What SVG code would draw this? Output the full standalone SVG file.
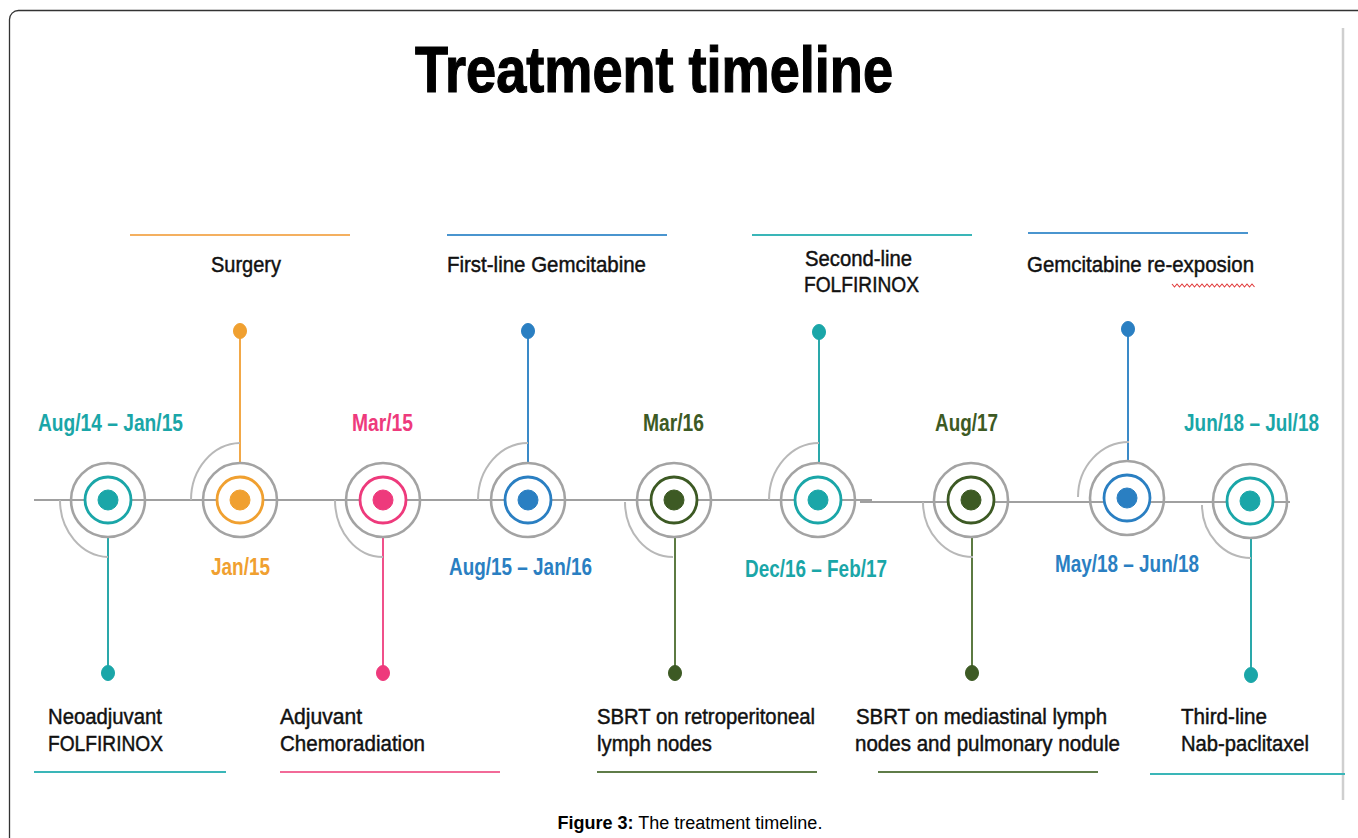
<svg xmlns="http://www.w3.org/2000/svg" width="1358" height="838" viewBox="0 0 1358 838">
<defs>
<style>
.t{font-family:"Liberation Sans",Arial,sans-serif;fill:#111;font-size:22px;stroke:#111;stroke-width:0.45}
.d{font-family:"Liberation Sans",Arial,sans-serif;font-weight:bold;font-size:23px}
.og{fill:none;stroke:#a3a3a3;stroke-width:2.6}
.arc{fill:none;stroke:#b8b8b8;stroke-width:2}
.ring{fill:#fff;stroke-width:2.8}
.teal{stroke:#1aa6a8;fill:#1aa6a8}
.orange{stroke:#f0a030;fill:#f0a030}
.pink{stroke:#ee3a7c;fill:#ee3a7c}
.blue{stroke:#2a7fc2;fill:#2a7fc2}
.green{stroke:#3d5a24;fill:#3d5a24}
.stem{stroke-width:2;fill:none}
.bar{stroke-width:2.2;fill:none}
</style>
</defs>
<rect x="0" y="0" width="1358" height="838" fill="#fff"/>
<rect x="9.5" y="10.5" width="1420" height="900" rx="9" fill="none" stroke="#333" stroke-width="1.3"/>
<line x1="1343" y1="28" x2="1343" y2="800" stroke="#cfcfcf" stroke-width="2.5"/>
<text x="654" y="92" text-anchor="middle" font-family="Liberation Sans, Arial, sans-serif" font-weight="bold" font-size="64" fill="#000" stroke="#000" stroke-width="1.2" textLength="478" lengthAdjust="spacingAndGlyphs">Treatment timeline</text>

<g id="connectors">
<line x1="34" y1="500" x2="872" y2="500" stroke="#a0a0a0" stroke-width="2"/>
<line x1="860" y1="502" x2="1290" y2="502" stroke="#a0a0a0" stroke-width="2"/>
<line class="stem teal" x1="108" y1="538" x2="108" y2="672" style="stroke:#2aa8aa"/>
<line class="stem orange" x1="240" y1="462" x2="240" y2="332" style="stroke:#f2a848"/>
<line class="stem pink" x1="383" y1="538" x2="383" y2="672" style="stroke:#f0508a"/>
<line class="stem blue" x1="528" y1="462" x2="528" y2="332" style="stroke:#3a8ac8"/>
<line class="stem green" x1="675" y1="538" x2="675" y2="672" style="stroke:#5c7a42"/>
<line class="stem teal" x1="819" y1="462" x2="819" y2="333" style="stroke:#2aa8aa"/>
<line class="stem green" x1="972" y1="538" x2="972" y2="672" style="stroke:#5c7a42"/>
<line class="stem blue" x1="1128" y1="462" x2="1128" y2="330" style="stroke:#3a8ac8"/>
<line class="stem teal" x1="1251" y1="538" x2="1251" y2="674" style="stroke:#2aa8aa"/>
</g>

<g id="n1">
<path class="arc" d="M60,500 A50,57 0 0 0 108,557"/>
<circle class="og" cx="108" cy="500" r="37"/>
<circle class="ring teal" cx="108" cy="500" r="23" style="fill:#fff"/>
<circle class="teal" cx="108" cy="500" r="10"/>
<ellipse class="teal" cx="108" cy="673" rx="6.5" ry="7.5"/>
<text class="d teal" style="stroke:none" x="38" y="431" textLength="145" lengthAdjust="spacingAndGlyphs">Aug/14 – Jan/15</text>
<text class="t" x="48" y="724" textLength="114" lengthAdjust="spacingAndGlyphs">Neoadjuvant</text>
<text class="t" x="48" y="751" textLength="115" lengthAdjust="spacingAndGlyphs">FOLFIRINOX</text>
<line class="bar teal" x1="34" y1="772" x2="226" y2="772" style="stroke:#3ab6b8"/>
</g>

<g id="n2">
<path class="arc" d="M191,500 A50,57 0 0 1 240,443"/>
<circle class="og" cx="240" cy="500" r="37"/>
<circle class="ring orange" cx="240" cy="500" r="23" style="fill:#fff"/>
<circle class="orange" cx="240" cy="500" r="10"/>
<ellipse class="orange" cx="240" cy="331" rx="6.5" ry="7.5"/>
<text class="d orange" style="stroke:none" x="211" y="575" textLength="59" lengthAdjust="spacingAndGlyphs">Jan/15</text>
<line class="bar orange" x1="130" y1="235" x2="350" y2="235" style="stroke:#f4b060"/>
<text class="t" x="211" y="272" textLength="70" lengthAdjust="spacingAndGlyphs">Surgery</text>
</g>

<g id="n3">
<path class="arc" d="M335,500 A48,57 0 0 0 383,557"/>
<circle class="og" cx="383" cy="500" r="37"/>
<circle class="ring pink" cx="383" cy="500" r="23" style="fill:#fff"/>
<circle class="pink" cx="383" cy="500" r="10"/>
<ellipse class="pink" cx="383" cy="673" rx="6.5" ry="7.5"/>
<text class="d pink" style="stroke:none" x="352" y="431" textLength="61" lengthAdjust="spacingAndGlyphs">Mar/15</text>
<text class="t" x="280" y="724" textLength="82" lengthAdjust="spacingAndGlyphs">Adjuvant</text>
<text class="t" x="280" y="751" textLength="145" lengthAdjust="spacingAndGlyphs">Chemoradiation</text>
<line class="bar pink" x1="280" y1="772" x2="500" y2="772" style="stroke:#f26a98"/>
</g>

<g id="n4">
<path class="arc" d="M478,500 A50,57 0 0 1 528,443"/>
<circle class="og" cx="528" cy="500" r="37"/>
<circle class="ring blue" cx="528" cy="500" r="23" style="fill:#fff"/>
<circle class="blue" cx="528" cy="500" r="10"/>
<ellipse class="blue" cx="528" cy="331" rx="6.5" ry="7.5"/>
<text class="d blue" style="stroke:none" x="449" y="575" textLength="143" lengthAdjust="spacingAndGlyphs">Aug/15 – Jan/16</text>
<line class="bar blue" x1="447" y1="235" x2="667" y2="235" style="stroke:#4a95cf"/>
<text class="t" x="447" y="272" textLength="199" lengthAdjust="spacingAndGlyphs">First-line Gemcitabine</text>
</g>

<g id="n5">
<path class="arc" d="M625,502 A48,55 0 0 0 673,557"/>
<circle class="og" cx="674" cy="500" r="37"/>
<circle class="ring green" cx="674" cy="500" r="23" style="fill:#fff"/>
<circle class="green" cx="674" cy="500" r="10"/>
<ellipse class="green" cx="675" cy="673" rx="6.5" ry="7.5"/>
<text class="d green" style="stroke:none" x="643" y="431" textLength="61" lengthAdjust="spacingAndGlyphs">Mar/16</text>
<text class="t" x="597" y="724" textLength="218" lengthAdjust="spacingAndGlyphs">SBRT on retroperitoneal</text>
<text class="t" x="597" y="751" textLength="115" lengthAdjust="spacingAndGlyphs">lymph nodes</text>
<line class="bar green" x1="597" y1="772" x2="817" y2="772" style="stroke:#5f7c48"/>
</g>

<g id="n6">
<path class="arc" d="M769,500 A50,57 0 0 1 819,443"/>
<circle class="og" cx="818" cy="500" r="37"/>
<circle class="ring teal" cx="818" cy="500" r="23" style="fill:#fff"/>
<circle class="teal" cx="818" cy="500" r="10"/>
<ellipse class="teal" cx="819" cy="332" rx="6.5" ry="7.5"/>
<text class="d teal" style="stroke:none" x="745" y="577" textLength="142" lengthAdjust="spacingAndGlyphs">Dec/16 – Feb/17</text>
<line class="bar teal" x1="752" y1="235" x2="972" y2="235" style="stroke:#3ab6b8"/>
<text class="t" x="805" y="266" textLength="107" lengthAdjust="spacingAndGlyphs">Second-line</text>
<text class="t" x="804" y="292" textLength="115" lengthAdjust="spacingAndGlyphs">FOLFIRINOX</text>
</g>

<g id="n7">
<path class="arc" d="M923,502 A50,55 0 0 0 973,557"/>
<circle class="og" cx="971" cy="500" r="37"/>
<circle class="ring green" cx="971" cy="500" r="23" style="fill:#fff"/>
<circle class="green" cx="971" cy="500" r="10"/>
<ellipse class="green" cx="972" cy="673" rx="6.5" ry="7.5"/>
<text class="d green" style="stroke:none" x="935" y="431" textLength="63" lengthAdjust="spacingAndGlyphs">Aug/17</text>
<text class="t" x="856" y="724" textLength="251" lengthAdjust="spacingAndGlyphs">SBRT on mediastinal lymph</text>
<text class="t" x="855" y="751" textLength="265" lengthAdjust="spacingAndGlyphs">nodes and pulmonary nodule</text>
<line class="bar green" x1="878" y1="772" x2="1098" y2="772" style="stroke:#5f7c48"/>
</g>

<g id="n8">
<path class="arc" d="M1078,497 A51,55 0 0 1 1129,442"/>
<circle class="og" cx="1127" cy="498" r="37"/>
<circle class="ring blue" cx="1127" cy="498" r="23" style="fill:#fff"/>
<circle class="blue" cx="1127" cy="498" r="10"/>
<ellipse class="blue" cx="1128" cy="329" rx="6.5" ry="7.5"/>
<text class="d blue" style="stroke:none" x="1055" y="572" textLength="144" lengthAdjust="spacingAndGlyphs">May/18 – Jun/18</text>
<line class="bar blue" x1="1028" y1="233" x2="1248" y2="233" style="stroke:#4a95cf"/>
<text class="t" x="1027" y="272" textLength="227" lengthAdjust="spacingAndGlyphs">Gemcitabine re-exposion</text>
<polyline fill="none" stroke="#e03a3a" stroke-width="1.1" points="1172,284 1174.5,287 1177,284 1179.5,287 1182,284 1184.5,287 1187,284 1189.5,287 1192,284 1194.5,287 1197,284 1199.5,287 1202,284 1204.5,287 1207,284 1209.5,287 1212,284 1214.5,287 1217,284 1219.5,287 1222,284 1224.5,287 1227,284 1229.5,287 1232,284 1234.5,287 1237,284 1239.5,287 1242,284 1244.5,287 1247,284 1249.5,287 1252,284 1254.5,287"/>
</g>

<g id="n9">
<path class="arc" d="M1202,505 A49,53 0 0 0 1251,558"/>
<circle class="og" cx="1250" cy="501" r="37"/>
<circle class="ring teal" cx="1250" cy="501" r="23" style="fill:#fff"/>
<circle class="teal" cx="1250" cy="501" r="10"/>
<ellipse class="teal" cx="1251" cy="675" rx="6.5" ry="7.5"/>
<text class="d teal" style="stroke:none" x="1184" y="431" textLength="135" lengthAdjust="spacingAndGlyphs">Jun/18 – Jul/18</text>
<text class="t" x="1181" y="724" textLength="86" lengthAdjust="spacingAndGlyphs">Third-line</text>
<text class="t" x="1181" y="751" textLength="128" lengthAdjust="spacingAndGlyphs">Nab-paclitaxel</text>
<line class="bar teal" x1="1150" y1="774" x2="1345" y2="774" style="stroke:#3ab6b8"/>
</g>

<text x="690" y="829" text-anchor="middle" font-family="Liberation Sans, Arial, sans-serif" font-size="18" fill="#000"><tspan font-weight="bold">Figure 3:</tspan> The treatment timeline.</text>
</svg>
